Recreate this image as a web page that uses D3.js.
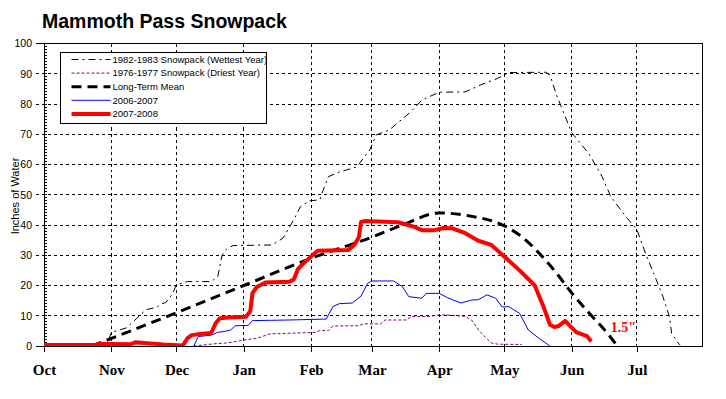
<!DOCTYPE html>
<html lang="en">
<head>
    <meta charset="UTF-8">
    <title>Mammoth Pass Snowpack</title>
    <script src="https://cdn.jsdelivr.net/npm/d3@7"></script>
    <style>
        body { margin: 0; background: #fff; }
        svg { display: block; }
    </style>
</head>
<body>
<svg width="726" height="399"></svg>
<script>
    // season dates are "MM-DD"; Oct-Dec fall in the first year, Jan-Jul in the next
    var months = ["10-01", "11-01", "12-01", "01-01", "02-01", "03-01", "04-01", "05-01", "06-01", "07-01"];
    var monthLabels = ["Oct", "Nov", "Dec", "Jan", "Feb", "Mar", "Apr", "May", "Jun", "Jul"];
    var yTicks = [0, 10, 20, 30, 40, 50, 60, 70, 80, 90, 100];

    var seriesNames = ["1982-1983 Snowpack (Wettest Year)", "1976-1977 Snowpack (Driest Year)",
        "Long-Term Mean", "2006-2007", "2007-2008"];

    var wetDates = ["10-01", "10-30", "11-01", "11-08", "11-11", "11-17", "11-22", "11-24", "11-26", "11-29",
        "12-01", "12-06", "12-17", "12-20", "12-22", "12-24", "12-27", "01-14", "01-19", "01-24", "01-27",
        "01-31", "02-05", "02-06", "02-09", "02-14", "02-22", "02-28", "03-03", "03-09", "03-19", "03-24",
        "04-01", "04-13", "04-20", "04-28", "05-03", "05-20", "05-22", "05-25", "06-01", "06-09", "06-15",
        "06-19", "06-26", "07-01", "07-05", "07-10", "07-13", "07-16", "07-17", "07-20", "07-21"];
    var wetValues = [0, 0.5, 4.5, 6.0, 8.0, 12.0, 12.8, 14.0, 14.3, 17.0,
        20.2, 21.3, 21.3, 22.9, 30.0, 32.0, 33.2, 33.4, 35.6, 41.7, 46.0,
        48.0, 48.3, 50.5, 56.0, 57.5, 59.2, 64.8, 69.8, 71.4, 77.5, 81.3,
        83.9, 84.0, 86.3, 88.5, 90.4, 90.5, 89.6, 83.0, 70.5, 63.5, 56.0,
        49.4, 42.7, 38.5, 30.6, 21.8, 16.3, 9.7, 4.2, 1.0, 0.3];

    var dryDates = ["12-09", "12-18", "12-24", "12-30", "01-03", "01-07", "01-13", "02-03", "02-05", "02-09",
        "02-11", "02-23", "02-25", "03-05", "03-07", "03-17", "03-19", "03-28", "04-01", "04-06", "04-13",
        "04-16", "04-20", "04-25", "04-28", "05-09"];
    var dryValues = [0, 0.7, 1.0, 1.7, 2.2, 2.5, 4.0, 4.5, 5.1, 5.1,
        6.6, 6.7, 7.3, 7.3, 8.6, 8.6, 9.7, 9.8, 10.3, 10.2, 9.8,
        8.5, 4.5, 1.0, 0.6, 0.5];

    var meanDates = ["10-23", "11-01", "12-01", "01-01", "02-01", "03-01", "03-15", "04-01", "04-15",
        "05-01", "05-09", "05-17", "05-25", "06-01", "06-09", "06-17", "06-22"];
    var meanValues = [0, 2.5, 11.0, 20.0, 29.0, 36.0, 40.0, 44.0, 43.0,
        39.7, 36.1, 30.7, 24.1, 17.5, 10.9, 4.6, 0];

    var y0607Dates = ["12-09", "12-11", "12-17", "12-20", "12-23", "12-26", "12-28", "01-03", "01-05", "01-22",
        "02-08", "02-11", "02-14", "02-20", "02-24", "02-27", "03-01", "03-11", "03-15", "03-18", "03-24",
        "03-26", "04-01", "04-05", "04-11", "04-16", "04-19", "04-23", "04-27", "04-30", "05-03", "05-08",
        "05-12", "05-17", "05-22"];
    var y0607Values = [0, 3.1, 3.6, 4.5, 4.8, 5.3, 6.7, 6.8, 8.4, 8.6,
        8.9, 13.0, 14.0, 14.2, 16.5, 20.7, 21.5, 21.5, 19.6, 16.3, 15.8,
        17.4, 17.4, 15.9, 14.2, 15.2, 15.3, 16.9, 15.8, 12.9, 13.0, 10.8,
        5.3, 2.5, 0];

    var y0708Dates = ["10-01", "10-24", "10-27", "11-01", "11-10", "11-12", "11-16", "11-25", "12-04", "12-06",
        "12-08", "12-12", "12-17", "12-19", "12-21", "12-25", "01-02", "01-04", "01-05", "01-07", "01-11",
        "01-22", "01-24", "01-26", "01-28", "02-04", "02-18", "02-21", "02-23", "02-24", "02-26", "03-13",
        "03-20", "03-24", "03-30", "04-03", "04-07", "04-13", "04-19", "04-25", "04-30", "05-08", "05-15",
        "05-19", "05-22", "05-24", "05-26", "05-29", "06-03", "06-08", "06-10"];
    var y0708Values = [0.3, 0.3, 0.7, 0.7, 0.6, 1.2, 1.0, 0.5, 0.2, 2.5,
        3.6, 4.0, 4.3, 7.5, 9.2, 9.4, 9.7, 11.5, 17.5, 19.5, 21.0,
        21.2, 22.0, 25.5, 27.0, 31.5, 31.7, 33.5, 36.0, 41.0, 41.3, 40.9,
        39.5, 38.3, 38.3, 39.0, 38.9, 37.3, 34.8, 33.4, 30.2, 25.0, 20.0,
        13.0, 7.0, 6.3, 6.6, 8.3, 4.6, 3.3, 1.5];

    var noteDate = "06-19";
    var noteValue = 4.6;
    var noteText = "1.5\"";

    function toDate(s) {
        var p = s.split("-").map(Number);
        return new Date(p[0] >= 10 ? 2006 : 2007, p[0] - 1, p[1]);
    }

    function pairs(dates, values) {
        return dates.map(function (d, i) {
            return {date: toDate(d), value: values[i]};
        });
    }

    var svg = d3.select("svg");
    var margin = {top: 43.5, right: 24, bottom: 53, left: 44};
    var width = 726 - margin.left - margin.right;
    var height = 399 - margin.top - margin.bottom;
    var sans = "Arial, 'Liberation Sans', sans-serif";
    var serif = "'Times New Roman', 'Liberation Serif', serif";

    svg.append("text")
        .attr("x", 42)
        .attr("y", 28)
        .attr("font-family", sans)
        .attr("font-weight", "bold")
        .attr("font-size", "19.5px")
        .text("Mammoth Pass Snowpack");

    svg.append("text")
        .attr("transform", "translate(19,196) rotate(-90)")
        .attr("text-anchor", "middle")
        .attr("font-family", sans)
        .attr("font-size", "11px")
        .text("Inches of Water");

    var g = svg.append("g").attr("transform", "translate(" + margin.left + "," + margin.top + ")");

    var x = d3.scaleTime()
        .domain([toDate("10-01"), toDate("07-31")])
        .range([0, width]);
    var y = d3.scaleLinear()
        .domain([0, 100])
        .range([height, 0]);

    // horizontal grid, running a little past the axis like the major ticks
    g.selectAll(".hgrid")
        .data(yTicks)
        .enter().append("line")
        .attr("class", "hgrid")
        .attr("x1", -8).attr("x2", width)
        .attr("y1", function (d) { return y(d); })
        .attr("y2", function (d) { return y(d); })
        .attr("stroke", "#000")
        .attr("stroke-width", 1)
        .attr("stroke-dasharray", function (d) { return d === 0 || d === 100 ? null : "3,3"; })
        .attr("shape-rendering", "crispEdges");

    // vertical grid at month starts
    g.selectAll(".vgrid")
        .data(months.slice(1))
        .enter().append("line")
        .attr("class", "vgrid")
        .attr("x1", function (d) { return x(toDate(d)); })
        .attr("x2", function (d) { return x(toDate(d)); })
        .attr("y1", 0).attr("y2", height)
        .attr("stroke", "#000")
        .attr("stroke-dasharray", "3,3")
        .attr("shape-rendering", "crispEdges");

    // minor ticks every inch
    g.selectAll(".minor")
        .data(d3.range(0, 101))
        .enter().append("line")
        .attr("class", "minor")
        .attr("x1", 0).attr("x2", 3)
        .attr("y1", function (d) { return y(d); })
        .attr("y2", function (d) { return y(d); })
        .attr("stroke", "#000")
        .attr("shape-rendering", "crispEdges");

    var yAxis = g.append("g")
        .call(d3.axisLeft(y).tickValues(yTicks).tickSize(0).tickPadding(12));
    yAxis.select(".domain").remove();
    yAxis.selectAll("text")
        .attr("font-family", sans)
        .attr("font-size", "10.5px")
        .attr("fill", "#000");

    var xAxis = g.append("g")
        .attr("transform", "translate(0," + height + ")")
        .call(d3.axisBottom(x)
            .tickValues(months.map(toDate))
            .tickFormat(function (d, i) { return monthLabels[i]; })
            .tickSize(6)
            .tickPadding(12));
    xAxis.select(".domain").remove();
    xAxis.selectAll("line").attr("stroke", "#000").attr("shape-rendering", "crispEdges");
    xAxis.selectAll("text")
        .attr("font-family", serif)
        .attr("font-weight", "bold")
        .attr("font-size", "15px")
        .attr("fill", "#000");

    // plot frame
    g.append("rect")
        .attr("width", width).attr("height", height)
        .attr("fill", "none")
        .attr("stroke", "#000")
        .attr("shape-rendering", "crispEdges");

    g.append("clipPath").attr("id", "clip")
        .append("rect").attr("width", width).attr("height", height);

    var series = [
        {name: seriesNames[0], data: pairs(wetDates, wetValues), color: "#000", w: 1, dash: "7,4,2,4", curve: d3.curveLinear},
        {name: seriesNames[1], data: pairs(dryDates, dryValues), color: "#800080", w: 1, dash: "3,2", curve: d3.curveLinear},
        {name: seriesNames[2], data: pairs(meanDates, meanValues), color: "#000", w: 3, dash: "10,6", curve: d3.curveMonotoneX},
        {name: seriesNames[3], data: pairs(y0607Dates, y0607Values), color: "#0000ff", w: 1, dash: null, curve: d3.curveLinear},
        {name: seriesNames[4], data: pairs(y0708Dates, y0708Values), color: "#ff0000", w: 4, dash: null, curve: d3.curveLinear}
    ];

    var plot = g.append("g").attr("clip-path", "url(#clip)");
    series.forEach(function (s) {
        var line = d3.line()
            .x(function (d) { return x(d.date); })
            .y(function (d) { return y(d.value); })
            .curve(s.curve);
        plot.append("path")
            .datum(s.data)
            .attr("d", line)
            .attr("fill", "none")
            .attr("stroke", s.color)
            .attr("stroke-width", s.w)
            .attr("stroke-dasharray", s.dash)
            .attr("stroke-linejoin", "round");
    });

    g.append("text")
        .attr("x", x(toDate(noteDate)))
        .attr("y", y(noteValue))
        .attr("font-family", serif)
        .attr("font-weight", "bold")
        .attr("font-size", "14px")
        .attr("fill", "#ff0000")
        .text(noteText);

    // legend
    var legend = svg.append("g").attr("transform", "translate(60.5,52.5)");
    legend.append("rect")
        .attr("width", 206).attr("height", 71)
        .attr("fill", "#fff")
        .attr("stroke", "#000");
    var item = legend.selectAll(".item")
        .data(series)
        .enter().append("g")
        .attr("class", "item")
        .attr("transform", function (d, i) { return "translate(0," + (7 + i * 13.6) + ")"; });
    item.append("line")
        .attr("x1", 11).attr("x2", 50)
        .attr("stroke", function (d) { return d.color; })
        .attr("stroke-width", function (d) { return d.w; })
        .attr("stroke-dasharray", function (d) { return d.dash; });
    item.append("text")
        .attr("x", 52)
        .attr("dy", "0.35em")
        .attr("font-family", sans)
        .attr("font-size", "9.5px")
        .text(function (d) { return d.name; });
</script>
</body>
</html>
